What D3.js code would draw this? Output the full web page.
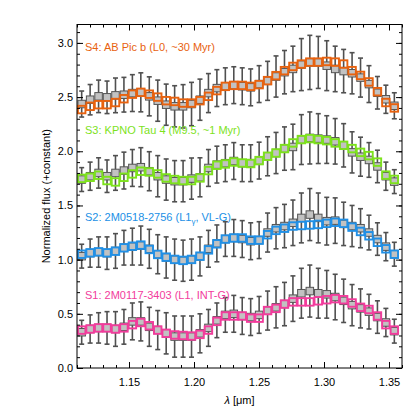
<!DOCTYPE html>
<html>
<head>
  <meta charset="utf-8">
  <title>Normalized flux spectra</title>
  <style>
    body { margin: 0; background: #fff; }
    text { font-family: Helvetica, Arial, "Liberation Sans", sans-serif; }
  </style>
</head>
<body>
  <script src="https://d3js.org/d3.v7.min.js"></script>
  <script type="text/javascript">

var lam = [1.1136, 1.1201, 1.1266, 1.1331, 1.1396, 1.1461, 1.1526, 1.1591, 1.1656, 1.1721,
           1.1786, 1.1851, 1.1916, 1.1981, 1.2046, 1.2111, 1.2176, 1.2241, 1.2306, 1.2371,
           1.2436, 1.2501, 1.2566, 1.2631, 1.2696, 1.2761, 1.2826, 1.2891, 1.2956, 1.3021,
           1.3086, 1.3151, 1.3216, 1.3281, 1.3346, 1.3411, 1.3476, 1.3541];

// S4 : AB Pic b
var s4Flux = [2.385, 2.415, 2.43, 2.43, 2.45, 2.485, 2.527, 2.544, 2.527, 2.50, 2.467, 2.46,
              2.445, 2.445, 2.467, 2.507, 2.56, 2.599, 2.608, 2.608, 2.599, 2.615, 2.652, 2.698,
              2.744, 2.783, 2.805, 2.823, 2.823, 2.829, 2.823, 2.805, 2.744, 2.70, 2.64, 2.55,
              2.45, 2.40];
var s4Ref  = [2.436, 2.476, 2.507, 2.498, 2.516, 2.522, 2.537, 2.544, 2.507, 2.467, 2.43, 2.415,
              2.415, 2.436, 2.476, 2.537, 2.583, 2.60, 2.61, 2.60, 2.59, 2.62, 2.65, 2.69,
              2.73, 2.76, 2.80, 2.82, 2.82, 2.79, 2.76, 2.74, 2.72, 2.68, 2.62, 2.54,
              2.48, 2.42];
var s4Err  = [0.12, 0.14, 0.15, 0.15, 0.16, 0.16, 0.17, 0.18, 0.18, 0.19, 0.19, 0.19,
              0.20, 0.20, 0.19, 0.18, 0.17, 0.17, 0.17, 0.17, 0.17, 0.17, 0.18, 0.19,
              0.20, 0.21, 0.24, 0.25, 0.24, 0.23, 0.21, 0.20, 0.19, 0.18, 0.17, 0.15,
              0.13, 0.12];

// S3 : KPNO Tau 4
var s3Flux = [1.75, 1.76, 1.779, 1.73, 1.717, 1.76, 1.791, 1.816, 1.809, 1.791, 1.754, 1.739,
              1.73, 1.73, 1.754, 1.822, 1.871, 1.883, 1.901, 1.892, 1.887, 1.914, 1.954, 1.984,
              2.025, 2.077, 2.108, 2.117, 2.108, 2.098, 2.077, 2.055, 2.025, 1.99, 1.96, 1.90,
              1.78, 1.74];
var s3Ref  = [1.739, 1.77, 1.80, 1.77, 1.80, 1.822, 1.846, 1.853, 1.816, 1.77, 1.739, 1.724,
              1.724, 1.748, 1.76, 1.846, 1.877, 1.89, 1.91, 1.89, 1.89, 1.914, 1.954, 1.984,
              2.025, 2.04, 2.108, 2.123, 2.117, 2.108, 2.092, 2.055, 1.99, 1.95, 1.92, 1.86,
              1.77, 1.72];
var s3Err  = [0.11, 0.13, 0.14, 0.15, 0.16, 0.17, 0.17, 0.18, 0.18, 0.19, 0.19, 0.19,
              0.19, 0.19, 0.18, 0.17, 0.17, 0.17, 0.17, 0.17, 0.17, 0.17, 0.18, 0.19,
              0.20, 0.21, 0.23, 0.24, 0.23, 0.22, 0.21, 0.20, 0.19, 0.18, 0.16, 0.15,
              0.13, 0.11];

// S2 : 2M0518-2756
var s2Flux = [1.05, 1.063, 1.072, 1.063, 1.078, 1.109, 1.124, 1.134, 1.094, 1.048, 1.023, 1.002,
              0.993, 1.002, 1.032, 1.09, 1.146, 1.19, 1.20, 1.20, 1.18, 1.18, 1.23, 1.27,
              1.29, 1.31, 1.315, 1.32, 1.325, 1.335, 1.345, 1.335, 1.30, 1.26, 1.22, 1.16,
              1.10, 1.05];
var s2Ref  = [1.032, 1.06, 1.07, 1.06, 1.08, 1.11, 1.12, 1.13, 1.10, 1.05, 1.02, 1.00,
              0.99, 1.00, 1.03, 1.10, 1.15, 1.19, 1.20, 1.19, 1.17, 1.18, 1.25, 1.29,
              1.31, 1.34, 1.385, 1.416, 1.385, 1.355, 1.36, 1.33, 1.31, 1.29, 1.25, 1.19,
              1.12, 1.05];
var s2Err  = [0.11, 0.13, 0.14, 0.15, 0.16, 0.16, 0.17, 0.18, 0.18, 0.18, 0.19, 0.19,
              0.19, 0.19, 0.18, 0.17, 0.17, 0.16, 0.17, 0.17, 0.17, 0.17, 0.18, 0.19,
              0.20, 0.21, 0.23, 0.24, 0.23, 0.22, 0.21, 0.20, 0.19, 0.18, 0.16, 0.15,
              0.13, 0.11];

// S1 : 2M0117-3403
var s1Flux = [0.35, 0.36, 0.37, 0.37, 0.36, 0.37, 0.40, 0.42, 0.39, 0.35, 0.32, 0.305,
              0.30, 0.295, 0.31, 0.35, 0.43, 0.48, 0.48, 0.48, 0.46, 0.46, 0.53, 0.55,
              0.59, 0.61, 0.61, 0.61, 0.62, 0.63, 0.64, 0.63, 0.60, 0.56, 0.54, 0.48,
              0.40, 0.35];
var s1Ref  = [0.33, 0.36, 0.37, 0.37, 0.36, 0.38, 0.43, 0.43, 0.38, 0.35, 0.32, 0.29,
              0.29, 0.29, 0.32, 0.37, 0.44, 0.49, 0.50, 0.48, 0.47, 0.49, 0.53, 0.56,
              0.59, 0.64, 0.69, 0.71, 0.69, 0.68, 0.655, 0.62, 0.58, 0.55, 0.52, 0.47,
              0.42, 0.34];
var s1Err  = [0.11, 0.13, 0.14, 0.15, 0.16, 0.16, 0.17, 0.18, 0.18, 0.18, 0.19, 0.19,
              0.19, 0.19, 0.18, 0.17, 0.16, 0.16, 0.17, 0.17, 0.17, 0.17, 0.18, 0.19,
              0.20, 0.21, 0.23, 0.24, 0.23, 0.22, 0.21, 0.20, 0.19, 0.18, 0.16, 0.15,
              0.13, 0.11];

var seriesNames  = ["S4", "S3", "S2", "S1"];
var seriesColors = ["#E8620F", "#7DE21C", "#2190E6", "#F23C9C"];

var yMajor = [0, 0.5, 1.0, 1.5, 2.0, 2.5, 3.0];
var xMajor = [1.15, 1.20, 1.25, 1.30, 1.35];

var W = 420, H = 420;
var margin = {left: 77, right: 18, top: 24.5, bottom: 52};

var svg = d3.select("body").append("svg")
    .attr("width", W)
    .attr("height", H);

var x = d3.scaleLinear().domain([1.11, 1.36]).range([margin.left, W - margin.right]);
var y = d3.scaleLinear().domain([0, 3.17]).range([H - margin.bottom, margin.top]);

var series = [
  {flux: s4Flux, ref: s4Ref, err: s4Err},
  {flux: s3Flux, ref: s3Ref, err: s3Err},
  {flux: s2Flux, ref: s2Ref, err: s2Err},
  {flux: s1Flux, ref: s1Ref, err: s1Err}
];

// error bars + grey comparison squares first, coloured squares on top
series.forEach(function(s, k) {
  var pts = lam.map(function(l, i) {
    return {l: l, f: s.flux[i], r: s.ref[i], e: s.err[i]};
  });
  var g = svg.append("g").attr("class", "series " + seriesNames[k]);

  g.selectAll(".bar").data(pts).enter().append("line")
      .attr("class", "bar")
      .attr("x1", function(d) { return x(d.l); })
      .attr("x2", function(d) { return x(d.l); })
      .attr("y1", function(d) { return y(d.r - d.e); })
      .attr("y2", function(d) { return y(d.r + d.e); })
      .style("stroke", "#505050").style("stroke-width", 1.6);

  [-1, 1].forEach(function(sgn) {
    g.selectAll(".cap" + sgn).data(pts).enter().append("line")
        .attr("x1", function(d) { return x(d.l) - 2.5; })
        .attr("x2", function(d) { return x(d.l) + 2.5; })
        .attr("y1", function(d) { return y(d.r + sgn * d.e); })
        .attr("y2", function(d) { return y(d.r + sgn * d.e); })
        .style("stroke", "#505050").style("stroke-width", 1.6);
  });

  g.selectAll(".ref").data(pts).enter().append("rect")
      .attr("x", function(d) { return x(d.l) - 3.75; })
      .attr("y", function(d) { return y(d.r) - 3.75; })
      .attr("width", 7.5).attr("height", 7.5)
      .style("fill", "#c2c2c2").style("stroke", "#555").style("stroke-width", 1);
});

series.forEach(function(s, k) {
  svg.append("g").selectAll("rect").data(lam).enter().append("rect")
      .attr("x", function(d) { return x(d) - 3.75; })
      .attr("y", function(d, i) { return y(s.flux[i]) - 3.75; })
      .attr("width", 7.5).attr("height", 7.5)
      .style("fill", "none")
      .style("stroke", seriesColors[k]).style("stroke-width", 1.9);
});

// axes: ticks inward on all four sides
function minorTicks(a, b, step) {
  var out = [];
  for (var v = a; v <= b + 1e-9; v += step) out.push(+v.toFixed(3));
  return out;
}
var yMinor = minorTicks(0, 3.1, 0.1);
var xMinor = minorTicks(1.11, 1.36, 0.01);

function styleAxis(g) {
  g.select(".domain").remove();
  g.selectAll("line").style("stroke", "#000");
  g.selectAll("text").style("font-size", "11px").style("fill", "#000")
    .style("font-family", "Helvetica, Arial, 'Liberation Sans', sans-serif");
}

var bottomY = H - margin.bottom, rightX = W - margin.right;

svg.append("g").attr("transform", "translate(" + margin.left + ",0)")
    .call(d3.axisLeft(y).tickValues(yMajor).tickFormat(d3.format(".1f")).tickSize(-6).tickPadding(4))
    .call(styleAxis);
svg.append("g").attr("transform", "translate(" + margin.left + ",0)")
    .call(d3.axisLeft(y).tickValues(yMinor).tickFormat("").tickSize(-3))
    .call(styleAxis);
svg.append("g").attr("transform", "translate(" + rightX + ",0)")
    .call(d3.axisRight(y).tickValues(yMajor).tickFormat("").tickSize(-6))
    .call(styleAxis);
svg.append("g").attr("transform", "translate(" + rightX + ",0)")
    .call(d3.axisRight(y).tickValues(yMinor).tickFormat("").tickSize(-3))
    .call(styleAxis);

svg.append("g").attr("transform", "translate(0," + bottomY + ")")
    .call(d3.axisBottom(x).tickValues(xMajor).tickFormat(d3.format(".2f")).tickSize(-6).tickPadding(10))
    .call(styleAxis);
svg.append("g").attr("transform", "translate(0," + bottomY + ")")
    .call(d3.axisBottom(x).tickValues(xMinor).tickFormat("").tickSize(-3))
    .call(styleAxis);
svg.append("g").attr("transform", "translate(0," + margin.top + ")")
    .call(d3.axisTop(x).tickValues(xMajor).tickFormat("").tickSize(-6))
    .call(styleAxis);
svg.append("g").attr("transform", "translate(0," + margin.top + ")")
    .call(d3.axisTop(x).tickValues(xMinor).tickFormat("").tickSize(-3))
    .call(styleAxis);

svg.append("rect")
    .attr("x", margin.left).attr("y", margin.top)
    .attr("width", rightX - margin.left).attr("height", bottomY - margin.top)
    .style("fill", "none").style("stroke", "#000").style("stroke-width", 1);

// series labels
var labelY = [47, 130, 217, 295];
var labelText = [
  ["S4: AB Pic b (L0, ~30 Myr)"],
  ["S3: KPNO Tau 4 (M9.5, ~1 Myr)"],
  ["S2: 2M0518-2756 (L1", "\u03b3", ", VL-G)"],
  ["S1: 2M0117-3403 (L1, INT-G)"]
];
labelText.forEach(function(parts, k) {
  var t = svg.append("text")
      .attr("x", margin.left + 8)
      .attr("y", labelY[k] + 4)
      .style("font-size", "11px")
      .style("fill", seriesColors[k]);
  t.append("tspan").text(parts[0]);
  if (parts.length > 1) {
    t.append("tspan").attr("dy", 3).style("font-size", "8px").text(parts[1]);
    t.append("tspan").attr("dy", -3).text(parts[2]);
  }
});

// axis titles
svg.append("text")
    .attr("transform", "translate(50," + ((margin.top + bottomY) / 2) + ") rotate(-90)")
    .attr("text-anchor", "middle")
    .style("font-size", "11px")
    .text("Normalized flux (+constant)");

var xt = svg.append("text")
    .attr("x", (margin.left + rightX) / 2)
    .attr("y", 404)
    .attr("text-anchor", "middle")
    .style("font-size", "11px");
xt.append("tspan").style("font-style", "italic").text("\u03bb");
xt.append("tspan").text(" [\u03bcm]");

  </script>
</body>
</html>
